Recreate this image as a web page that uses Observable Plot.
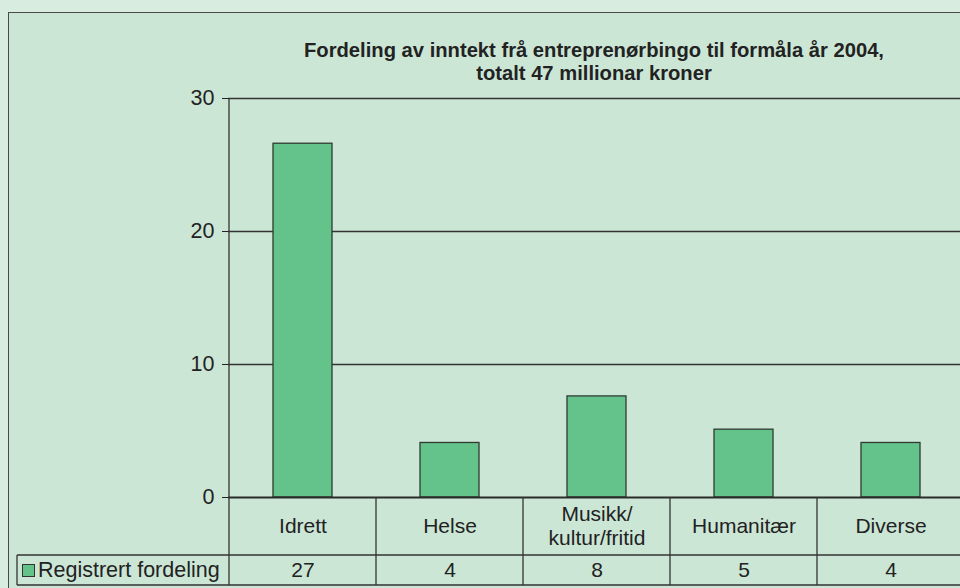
<!DOCTYPE html>
<html>
<head>
<meta charset="utf-8">
<script src="https://cdn.jsdelivr.net/npm/d3@7"></script>
<script src="https://cdn.jsdelivr.net/npm/@observablehq/plot@0.6"></script>
<style>
  html, body { margin: 0; padding: 0; background: #d8ece0; width: 960px; height: 588px; overflow: hidden; }
  body { position: relative; font-family: "Liberation Sans", Arial, sans-serif; color: #222; }
  #panel { position: absolute; left: 8px; top: 12px; width: 1000px; height: 640px; border: 1.5px solid #4a4a4a; background: #cce6d6; box-sizing: border-box; }
  #chart { position: absolute; left: 0; top: 0; }
  #title { position: absolute; left: 228px; width: 732px; top: 39px; text-align: center; font-weight: bold; font-size: 20.2px; line-height: 23px; color: #222; }
  #legend { position: absolute; left: 22px; top: 557px; font-size: 21.5px; line-height: 26px; color: #222; white-space: nowrap; }
  #legend .sw { display: inline-block; width: 11px; height: 11px; background: #64c28b; border: 1.3px solid #333; margin-right: 3px; vertical-align: 0px; }
</style>
</head>
<body>
<div id="panel"></div>
<div id="chart"></div>
<div id="title"></div>
<div id="legend"></div>
<script>
const categories = ["Idrett", "Helse", "Musikk/\nkultur/fritid", "Humanitær", "Diverse"];
const values = [26.6, 4.1, 7.6, 5.1, 4.1];
const tableValues = [27, 4, 8, 5, 4];
const yTicks = [0, 10, 20, 30];
const titleLines = ["Fordeling av inntekt frå entreprenørbingo til formåla år 2004,", "totalt 47 millionar kroner"];
const legendLabel = "Registrert fordeling";

const data = categories.map((c, i) => ({cat: c, value: values[i], tv: tableValues[i]}));

function tableLines(index, scales, vals, dims) {
  const {x, y} = scales;
  const {width} = dims;
  const bw = x.bandwidth();
  const y0 = y(0);
  const rowSplit = y0 + 58, rowBottom = y0 + 88;
  const left = x(categories[0]) + bw / 2 - (x(categories[1]) - x(categories[0])) / 2;
  const g = d3.create("svg:g").attr("stroke", "#333").attr("fill", "none").attr("stroke-width", 1.3);
  for (let i = 1; i < categories.length; i++) {
    const bx = (x(categories[i - 1]) + x(categories[i]) + bw) / 2;
    g.append("line").attr("x1", bx).attr("x2", bx).attr("y1", y0).attr("y2", rowBottom);
  }
  // y axis line
  g.append("line").attr("x1", left).attr("x2", left).attr("y1", y(30)).attr("y2", rowBottom);
  // table rows
  g.append("line").attr("x1", 17).attr("x2", width).attr("y1", rowSplit).attr("y2", rowSplit);
  g.append("line").attr("x1", 17).attr("x2", width).attr("y1", rowBottom).attr("y2", rowBottom);
  g.append("line").attr("x1", 17).attr("x2", 17).attr("y1", rowSplit).attr("y2", rowBottom);
  return g.node();
}

const plot = Plot.plot({
  width: 960,
  height: 588,
  marginLeft: 228,
  marginRight: -4,
  marginTop: 98,
  marginBottom: 91,
  style: {background: "transparent", fontFamily: "'Liberation Sans', Arial, sans-serif", fontSize: "21.5px", color: "#222", overflow: "hidden"},
  x: {domain: categories, paddingInner: 0.6, paddingOuter: 0.3, axis: null},
  y: {domain: [0, 30], ticks: yTicks, tickSize: 6, tickPadding: 8, label: null},
  marks: [
    Plot.ruleY(yTicks.filter(d => d > 0), {stroke: "#333", strokeWidth: 1.3}),
    Plot.barY(data, {x: "cat", y: "value", fill: "#64c28b", stroke: "#2e3a32", strokeWidth: 1.3}),
    Plot.ruleY([0], {stroke: "#2a2a2a", strokeWidth: 2.2}),
    Plot.text(data, {x: "cat", text: "cat", frameAnchor: "bottom", dy: 28, fontSize: 21, lineAnchor: "middle", lineHeight: 1.15, fill: "#222"}),
    Plot.text(data, {x: "cat", text: d => String(d.tv), frameAnchor: "bottom", dy: 73, fontSize: 21, lineAnchor: "middle", fill: "#222"}),
    tableLines
  ]
});
document.getElementById("chart").appendChild(plot);

document.getElementById("title").innerHTML = titleLines.join("<br>");
document.getElementById("legend").innerHTML = '<span class="sw"></span>' + legendLabel;
</script>
</body>
</html>
